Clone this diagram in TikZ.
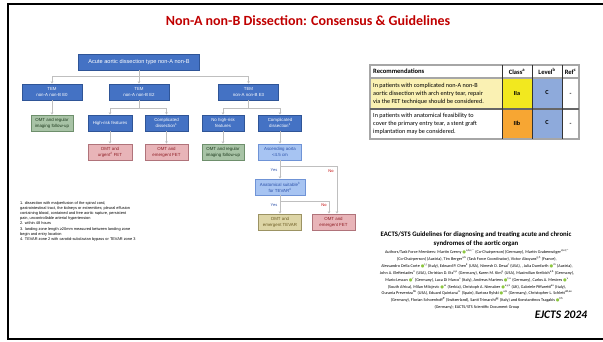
\documentclass[tikz,border=0pt]{standalone}
\usepackage{fontspec}
\setmainfont{Carlito}
\newfontfamily\flowfont{Liberation Sans}
\newfontfamily\symfont{DejaVu Sans}
\usetikzlibrary{arrows.meta,
                calc,
                positioning}

\definecolor{titlered}{HTML}{C00000}
\definecolor{boxblue}{HTML}{4472C4}
\definecolor{boxblueline}{HTML}{2F5597}
\definecolor{boxgreen}{HTML}{A8C3A6}
\definecolor{boxgreenline}{HTML}{6E8F6C}
\definecolor{greentext}{HTML}{1E3A1E}
\definecolor{boxpink}{HTML}{E8B4B8}
\definecolor{boxpinkline}{HTML}{B0737A}
\definecolor{pinktext}{HTML}{8E1C24}
\definecolor{boxlight}{HTML}{A7C4F2}
\definecolor{boxlightline}{HTML}{6F93D6}
\definecolor{lighttext}{HTML}{2A4FA8}
\definecolor{boxkhaki}{HTML}{DDD5A6}
\definecolor{boxkhakiline}{HTML}{9C9363}
\definecolor{khakitext}{HTML}{6A5A22}
\definecolor{linegray}{HTML}{BFBFBF}
\definecolor{rowyellow}{HTML}{FAF1B3}
\definecolor{classyellow}{HTML}{F2E81F}
\definecolor{classorange}{HTML}{F7A633}
\definecolor{levelblue}{HTML}{8EAADB}
\definecolor{tablegray}{HTML}{A6A6A6}
\definecolor{orcid}{HTML}{8CC63F}

\newcommand{\orcmark}{{\symfont\textcolor{orcid}{●}}}

\tikzset{
  flow/.style={draw, rectangle, minimum height=16pt, inner sep=0.5pt, align=center,
               line width=0.7pt, font=\flowfont\fontsize{4.4}{6}\selectfont},
  bluebox/.style={flow, fill=boxblue, draw=boxblueline, text=white},
  greenbox/.style={flow, fill=boxgreen, draw=boxgreenline, text=greentext},
  pinkbox/.style={flow, fill=boxpink, draw=boxpinkline, text=pinktext},
  lightbox/.style={flow, fill=boxlight, draw=boxlightline, text=lighttext},
  khakibox/.style={flow, fill=boxkhaki, draw=boxkhakiline, text=khakitext},
  link/.style={draw=linegray, line width=0.7pt, -{Stealth[length=2.4pt,width=2.6pt]}},
  yeslbl/.style={font=\flowfont\fontsize{4}{5}\selectfont, text=lighttext, inner sep=0pt},
  nolbl/.style={font=\flowfont\fontsize{4}{5}\selectfont, text=titlered, inner sep=0pt},
  cell/.style={inner sep=0pt, font=\bfseries\fontsize{6.2}{8}\selectfont}
}

\begin{document}
\begin{tikzpicture}[x=1pt, y=-1pt]
\useasboundingbox (0,0) rectangle (603,341);

% slide frame and title
\draw[line width=2.5pt] (603,4) -- (8,4) -- (8,339) -- (603,339);
\node[font=\bfseries\fontsize{14}{16}\selectfont, text=titlered] (title) at (308,20.5)
  {Non-A non-B Dissection: Consensus \& Guidelines};

% flowchart
\node[bluebox, minimum width=121pt, font=\flowfont\fontsize{5.6}{7}\selectfont] (main) at (139,62)
  {Acute aortic dissection type non-A non-B};

\node[bluebox, minimum width=60pt] (tem1) at (52,92) {TEM\\non-A non-B E0};
\node[bluebox, minimum width=60pt] (tem2) at (139,92) {TEM\\non-A non-B E2};
\node[bluebox, minimum width=60pt] (tem3) at (248.5,92) {TEM\\non-A non-B E3};

\node[greenbox, minimum width=42pt] (omt1) at (52,123) {OMT and regular\\imaging follow-up};
\node[bluebox, minimum width=44pt] (highrisk) at (110,123) {High-risk features};
\node[bluebox, minimum width=43pt] (compl1) at (166.5,123) {Complicated\\dissection\textsuperscript{1}};
\node[bluebox, minimum width=42pt] (nohigh) at (223,123) {No high-risk\\features};
\node[bluebox, minimum width=43pt] (compl2) at (280,123) {Complicated\\dissection\textsuperscript{1}};

\node[pinkbox, minimum width=44pt] (fetu) at (110,152) {OMT and\\urgent\textsuperscript{2} FET};
\node[pinkbox, minimum width=43pt] (fete) at (166.5,152) {OMT and\\emergent FET};
\node[greenbox, minimum width=42pt] (omt2) at (223,152) {OMT and regular\\imaging follow-up};
\node[lightbox, minimum width=43pt] (asc) at (280,152) {Ascending aorta\\<4.5 cm};

\node[lightbox, minimum width=50pt] (anat) at (280,187) {Anatomical suitable\textsuperscript{3}\\for TEVAR\textsuperscript{4}};

\node[khakibox, minimum width=43pt] (tevar) at (280,222) {OMT and\\emergent TEVAR};
\node[pinkbox, minimum width=43pt] (fetr) at (333.5,222) {OMT and\\emergent FET};

\coordinate (bus1) at (0,76);
\coordinate (bus2) at (0,108);
\coordinate (nojoin1) at (337,166);
\coordinate (nojoin2) at (329,201);

\draw[link] (main.south) -- (main.south |- bus1) -| (tem1.north);
\draw[link] (main.south) -- (tem2.north);
\draw[link] (main.south) -- (main.south |- bus1) -| (tem3.north);

\draw[link] (tem1.south) -- (omt1.north);
\draw[link] (tem2.south) -- (tem2.south |- bus2) -| (highrisk.north);
\draw[link] (tem2.south) -- (tem2.south |- bus2) -| (compl1.north);
\draw[link] (tem3.south) -- (tem3.south |- bus2) -| (nohigh.north);
\draw[link] (tem3.south) -- (tem3.south |- bus2) -| (compl2.north);

\draw[link] (highrisk) -- (fetu);
\draw[link] (compl1) -- (fete);
\draw[link] (nohigh) -- (omt2);
\draw[link] (compl2) -- (asc);

\draw[link] (asc.south) -- (anat.north);
\draw[link] (asc.south) -- (asc.south |- nojoin1) -- (nojoin1) -- (nojoin1 |- fetr.north);
\draw[link] (anat.south) -- (tevar.north);
\draw[link] (anat.south) -- (anat.south |- nojoin2) -- (nojoin2) -- (nojoin2 |- fetr.north);

\node[yeslbl] (yes1) at (274,170) {Yes};
\node[nolbl] (no1) at (331,171) {No};
\node[yeslbl] (yes2) at (274,205) {Yes};
\node[nolbl] (no2) at (324,205) {No};

% footnotes
\node[anchor=north west, inner sep=0pt, align=left, font=\flowfont\fontsize{3.9}{5.2}\selectfont] (notes) at (20,201)
  {1. dissection with malperfusion of the spinal cord,\\
   gastrointestinal tract, the kidneys or extremities; pleural effusion\\
   containing blood, contained and free aortic rupture, persistent\\
   pain, uncontrollable arterial hypertension\\
   2. within 48 hours\\
   3. landing zone length ≥20mm measured between landing zone\\
   begin and entry location\\
   4. TEVAR zone 2 with carotid-subclavian bypass or TEVAR zone 3};

% recommendation table
\fill[rowyellow] (370,78) rectangle (502,109);
\fill[classyellow] (502,78) rectangle (532,109);
\fill[classorange] (502,109) rectangle (532,139);
\fill[levelblue] (532,78) rectangle (562,139);
\draw[tablegray, line width=1.2pt] (370,65) rectangle (579,139);
\draw[tablegray, line width=1.2pt] (370,78) -- (579,78);
\draw[black!60, line width=1.2pt] (370,109) -- (579,109);
\draw[black!80, line width=0.9pt] (502,65) -- (502,139) (532,65) -- (532,139) (562,65) -- (562,139);

\node[cell, anchor=west, font=\bfseries\fontsize{6.6}{8}\selectfont] (hrec) at (373,71.5) {Recommendations};
\node[cell, font=\bfseries\fontsize{6.6}{8}\selectfont] (hclass) at (517,71.5) {Class\textsuperscript{a}};
\node[cell, font=\bfseries\fontsize{6.6}{8}\selectfont] (hlevel) at (547,71.5) {Level\textsuperscript{b}};
\node[cell, font=\bfseries\fontsize{6.6}{8}\selectfont] (href) at (570.5,71.5) {Ref\textsuperscript{c}};

\node[anchor=west, inner sep=0pt, align=left, font=\fontsize{6.2}{8}\selectfont] (rec1) at (373,93.6)
  {In patients with complicated non-A non-B\\aortic dissection with arch entry tear, repair\\via the FET technique should be considered.};
\node[anchor=west, inner sep=0pt, align=left, font=\fontsize{6.2}{8}\selectfont] (rec2) at (373,123.8)
  {In patients with anatomical feasibility to\\cover the primary entry tear, a stent graft\\implantation may be considered.};

\node[cell] (class1) at (517,94) {IIa};
\node[cell] (level1) at (547,92.5) {C};
\node[cell] (ref1) at (570.5,94) {-};
\node[cell] (class2) at (517,123) {IIb};
\node[cell] (level2) at (547,122.5) {C};
\node[cell] (ref2) at (570.5,124) {-};

% guideline reference
\node[align=center, inner sep=0pt, font=\bfseries\fontsize{6.8}{8.5}\selectfont] (gtitle) at (476,239.3)
  {EACTS/STS Guidelines for diagnosing and treating acute and chronic\\syndromes of the aortic organ};
\node[align=center, inner sep=0pt, font=\fontsize{4.2}{6.85}\selectfont] (authors) at (477,279.5)
  {Authors/Task Force Members: Martin Czerny \orcmark\textsuperscript{a,b,c,*} (Co-Chairperson) (Germany), Martin Grabenwöger\textsuperscript{d,e,f,*}\\
   (Co-Chairperson) (Austria), Tim Berger\textsuperscript{a,b} (Task Force Coordinator), Victor Aboyans\textsuperscript{g,h} (France),\\
   Alessandro Della Corte \orcmark\textsuperscript{i,j} (Italy), Edward P. Chen\textsuperscript{k} (USA), Nimesh D. Desai\textsuperscript{l} (USA), , Julia Dumfarth \orcmark\textsuperscript{m} (Austria),\\
   John A. Elefteriades\textsuperscript{n} (USA), Christian D. Etz\textsuperscript{o,p} (Germany), Karen M. Kim\textsuperscript{q} (USA), Maximilian Kreibich\textsuperscript{a,b} (Germany),\\
   Mario Lescan \orcmark\textsuperscript{r} (Germany), Luca Di Marco\textsuperscript{s} (Italy), Andreas Martens \orcmark\textsuperscript{t,u} (Germany), Carlos A. Mestres \orcmark\textsuperscript{v}\\
   (South Africa), Milan Milojevic \orcmark\textsuperscript{w} (Serbia), Christoph A. Nienaber \orcmark\textsuperscript{x,y,z} (UK), Gabriele Piffaretti\textsuperscript{aa} (Italy),\\
   Ourania Preventza\textsuperscript{bb} (USA), Eduard Quintana\textsuperscript{cc} (Spain), Bartosz Rylski \orcmark\textsuperscript{a,b} (Germany), Christopher L. Schlett\textsuperscript{dd,ee}\\
   (Germany), Florian Schoenhoff\textsuperscript{ff} (Switzerland), Santi Trimarchi\textsuperscript{gg} (Italy) and Konstantinos Tsagakis \orcmark\textsuperscript{hh}\\
   (Germany); EACTS/STS Scientific Document Group};
\node[font=\bfseries\itshape\fontsize{11.5}{13}\selectfont] (journal) at (561,315) {EJCTS 2024};

\end{tikzpicture}
\end{document}
